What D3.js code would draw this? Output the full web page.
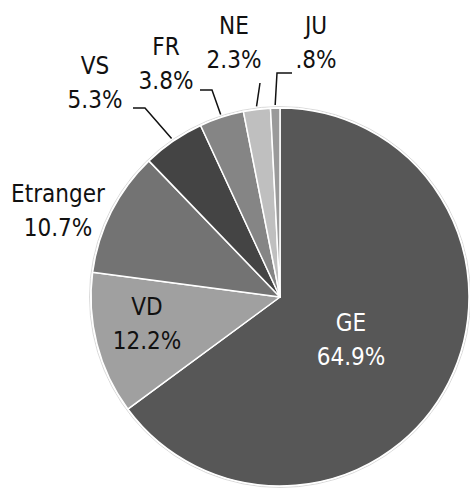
<!DOCTYPE html>
<html>
<head>
<meta charset="utf-8">
<script src="https://cdn.jsdelivr.net/npm/d3@7"></script>
<style>
  html, body { margin: 0; padding: 0; background: #fff; }
  svg { display: block; }
  text { font-family: "DejaVu Sans Condensed", "Liberation Sans Narrow", sans-serif; font-size: 24px; }
</style>
</head>
<body>
<svg id="chart" width="470" height="489"></svg>
<script>
const categories = ["GE", "VD", "Etranger", "VS", "FR", "NE", "JU"];
const values = [64.9, 12.2, 10.7, 5.3, 3.8, 2.3, 0.8];
const valueLabels = ["64.9%", "12.2%", "10.7%", "5.3%", "3.8%", "2.3%", ".8%"];
const colors = ["#575757", "#a0a0a0", "#737373", "#444444", "#858585", "#bfbfbf", "#9a9a9a"];

// label layout (positions only)
const labelLayout = {
  GE:       { x: 351, y: 331, fill: "#fff" },
  VD:       { x: 147, y: 315, fill: "#111" },
  Etranger: { x: 58,  y: 202, fill: "#111" },
  VS:       { x: 95,  y: 74,  fill: "#111", leader: [[145, 108], [133, 108]] },
  FR:       { x: 166, y: 55,  fill: "#111", leader: [[212, 90], [200, 90]] },
  NE:       { x: 234, y: 34,  fill: "#111", leader: [[260, 83]] },
  JU:       { x: 316, y: 34,  fill: "#111", leader: [[277, 73], [292, 73]] }
};

const svg = d3.select("#chart");
const cx = 280, cy = 297, r = 189;
const g = svg.append("g").attr("transform", `translate(${cx},${cy})`);

const data = categories.map((c, i) => ({ cat: c, value: values[i], label: valueLabels[i], color: colors[i] }));
const pie = d3.pie().value(d => d.value).sort(null);
const arcs = pie(data);
const arc = d3.arc().innerRadius(0).outerRadius(r);

g.append("circle").attr("r", r + 1.5).attr("fill", "none").attr("stroke", "#d0d0d0").attr("stroke-width", 0.8);

g.selectAll("path.slice").data(arcs).join("path")
  .attr("class", "slice")
  .attr("d", arc)
  .attr("fill", d => d.data.color)
  .attr("stroke", "#fff")
  .attr("stroke-width", 1.5)
  .attr("stroke-linejoin", "round");

// leaders
arcs.forEach(a => {
  const lay = labelLayout[a.data.cat];
  if (!lay.leader) return;
  const mid = (a.startAngle + a.endAngle) / 2;
  const rr = r + 3;
  const start = [cx + rr * Math.sin(mid), cy - rr * Math.cos(mid)];
  const pts = [start].concat(lay.leader);
  svg.append("path")
    .attr("d", d3.line()(pts))
    .attr("fill", "none")
    .attr("stroke", "#111")
    .attr("stroke-width", 1.5);
});

// labels
arcs.forEach(a => {
  const lay = labelLayout[a.data.cat];
  const t = svg.append("text")
    .attr("text-anchor", "middle")
    .attr("fill", lay.fill);
  t.append("tspan").attr("x", lay.x).attr("y", lay.y).text(a.data.cat);
  t.append("tspan").attr("x", lay.x).attr("y", lay.y + 34).text(a.data.label);
});
</script>
</body>
</html>
